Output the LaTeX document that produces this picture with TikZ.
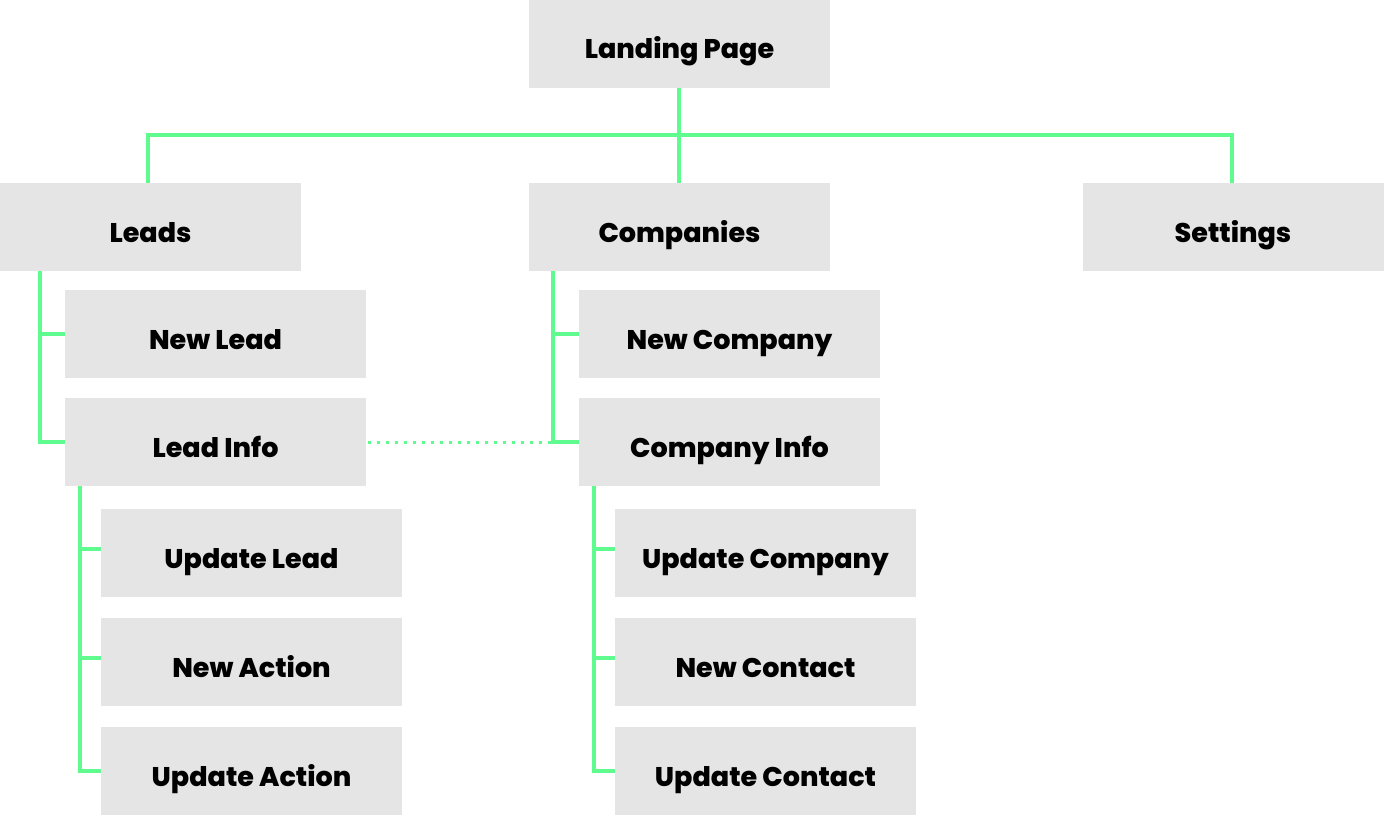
\documentclass[tikz,border=0pt]{standalone}
\usepackage{fontspec}
\setmainfont{Poppins}[BoldFont={Poppins ExtraBold}]
\usetikzlibrary{calc}
\definecolor{boxgray}{HTML}{E5E5E5}
\definecolor{linkgreen}{HTML}{5FFB8F}
\begin{document}
\begin{tikzpicture}[x=1pt,y=-1pt,
  page/.style={fill=boxgray,draw=none,minimum width=301pt,minimum height=88pt,
    inner sep=0pt,text height=30pt,text depth=0pt,
    font=\fontsize{27}{30}\selectfont\bfseries,text=black},
  link/.style={draw=linkgreen,line width=4pt},
  crosslink/.style={draw=linkgreen,line width=3pt,dash pattern=on 3pt off 6pt}]
\useasboundingbox (0,0) rectangle (1384,816);

% top level
\node[page] (land) at (679.5,44) {Landing Page};
\node[page] (leads) at (150.5,227) {Leads};
\node[page] (comp) at (679.5,227) {Companies};
\node[page] (sett) at (1233,227) {Settings};

% leads branch
\node[page] (newlead) at (215.5,334) {New Lead};
\node[page] (leadinfo) at (215.5,442) {Lead Info};
\node[page] (updlead) at (251.5,553) {Update Lead};
\node[page] (newact) at (251.5,662) {New Action};
\node[page] (updact) at (251.5,771) {Update Action};

% companies branch
\node[page] (newcomp) at (729.5,334) {New Company};
\node[page] (compinfo) at (729.5,442) {Company Info};
\node[page] (updcomp) at (765.5,553) {Update Company};
\node[page] (newcont) at (765.5,662) {New Contact};
\node[page] (updcont) at (765.5,771) {Update Contact};

% main bus
\coordinate (bus) at (679,135);
\draw[link] (land.south -| bus) -- (comp.north -| bus);
\draw[link] ([xshift=-2.5pt]leads.north) |- (bus) -| ([xshift=-1pt]sett.north);

% leads children
\coordinate (leadtrunk) at ([xshift=40pt]leads.south west);
\draw[link] (leadtrunk) |- (newlead.west);
\draw[link] (leadtrunk) |- (leadinfo.west);
\coordinate (infotrunk) at ([xshift=15pt]leadinfo.south west);
\draw[link] (infotrunk) |- ([yshift=4pt]updlead.west);
\draw[link] (infotrunk) |- ([yshift=4pt]newact.west);
\draw[link] (infotrunk) |- (updact.west);

% companies children
\coordinate (comptrunk) at ([xshift=24pt]comp.south west);
\draw[link] (comptrunk) |- (newcomp.west);
\draw[link] (comptrunk) |- (compinfo.west);
\coordinate (cinfotrunk) at ([xshift=15pt]compinfo.south west);
\draw[link] (cinfotrunk) |- ([yshift=4pt]updcomp.west);
\draw[link] (cinfotrunk) |- ([yshift=4pt]newcont.west);
\draw[link] (cinfotrunk) |- (updcont.west);

% lead info to company info
\draw[crosslink] ([xshift=2pt]leadinfo.east) -- ([xshift=-2pt]leadinfo.east -| comptrunk);
\end{tikzpicture}
\end{document}
